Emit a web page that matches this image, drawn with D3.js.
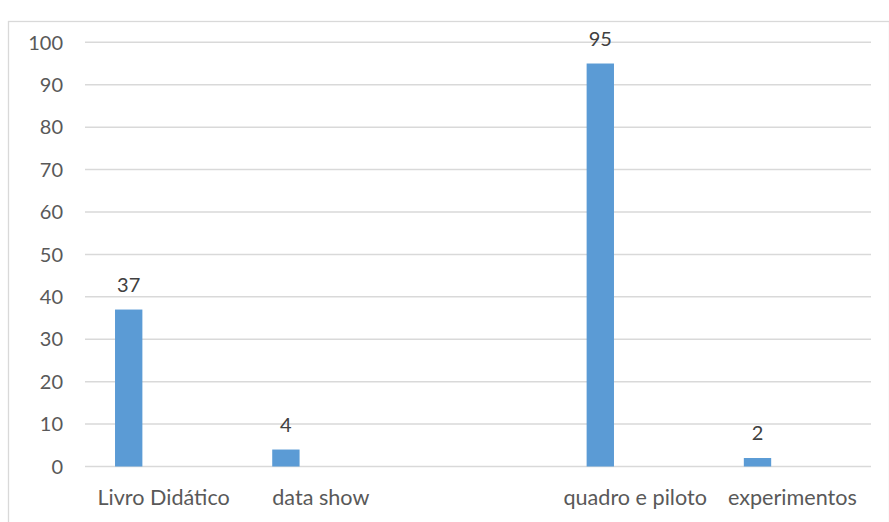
<!DOCTYPE html>
<html>
<head>
<meta charset="utf-8">
<script src="https://cdn.jsdelivr.net/npm/d3@7"></script>
<style>
  html, body { margin: 0; padding: 0; background: #fff; }
  svg { display: block; font-family: Lato, "Open Sans", sans-serif; }
</style>
</head>
<body>
<div id="Chart"></div>
<script>
// chart data
const categories = ["Livro Didático", "data show", "", "quadro e piloto", "experimentos"];
const values = [37, 4, null, 95, 2];
const yTicks = [0, 10, 20, 30, 40, 50, 60, 70, 80, 90, 100];

const CHART_WIDTH = 889;
const CHART_HEIGHT = 522;
const margin = {top: 42.3, right: 18, bottom: 55.5, left: 85};

const svg = d3.select("#Chart")
    .append("svg")
    .attr("width", CHART_WIDTH)
    .attr("height", CHART_HEIGHT);

// outer chart frame
svg.append("rect")
    .attr("x", 8.5).attr("y", 21.5)
    .attr("width", CHART_WIDTH - 8)
    .attr("height", CHART_HEIGHT)
    .attr("fill", "none")
    .attr("stroke", "#d9d9d9")
    .attr("stroke-width", 1.3);

const x = d3.scaleBand()
    .domain(d3.range(categories.length))
    .range([margin.left, CHART_WIDTH - margin.right]);

const y = d3.scaleLinear()
    .domain([0, 100])
    .range([CHART_HEIGHT - margin.bottom, margin.top]);

// gridlines
svg.append("g")
    .selectAll("line")
    .data(yTicks)
    .join("line")
    .attr("x1", margin.left)
    .attr("x2", CHART_WIDTH - margin.right)
    .attr("y1", d => y(d))
    .attr("y2", d => y(d))
    .attr("stroke", "#d9d9d9")
    .attr("stroke-width", 1.5);

// y tick labels
svg.append("g")
    .selectAll("text")
    .data(yTicks)
    .join("text")
    .attr("x", 63)
    .attr("y", d => y(d))
    .attr("dy", "0.36em")
    .attr("text-anchor", "end")
    .attr("fill", "#595959")
    .style("font-size", "20px")
    .text(d => d);

// bars sit left of the band centre (first series of a cluster)
const barW = x.bandwidth() * 0.174;
const barX = i => x(i) + x.bandwidth() * 0.278 - barW / 2;
const data = values.map((v, i) => ({i, v})).filter(d => d.v != null);

svg.append("g")
    .selectAll("rect")
    .data(data)
    .join("rect")
    .attr("x", d => barX(d.i))
    .attr("y", d => y(d.v))
    .attr("width", barW)
    .attr("height", d => y(0) - y(d.v))
    .attr("fill", "#5b9bd5");

// value labels
svg.append("g")
    .selectAll("text")
    .data(data)
    .join("text")
    .attr("x", d => barX(d.i) + barW / 2)
    .attr("y", d => y(d.v) - 18)
    .attr("text-anchor", "middle")
    .attr("fill", "#404040")
    .style("font-size", "20px")
    .text(d => d.v);

// category labels
svg.append("g")
    .selectAll("text")
    .data(categories)
    .join("text")
    .attr("x", (d, i) => x(i) + x.bandwidth() / 2)
    .attr("y", 505)
    .attr("text-anchor", "middle")
    .attr("fill", "#595959")
    .style("font-size", "21.6px")
    .text(d => d);
</script>
</body>
</html>
